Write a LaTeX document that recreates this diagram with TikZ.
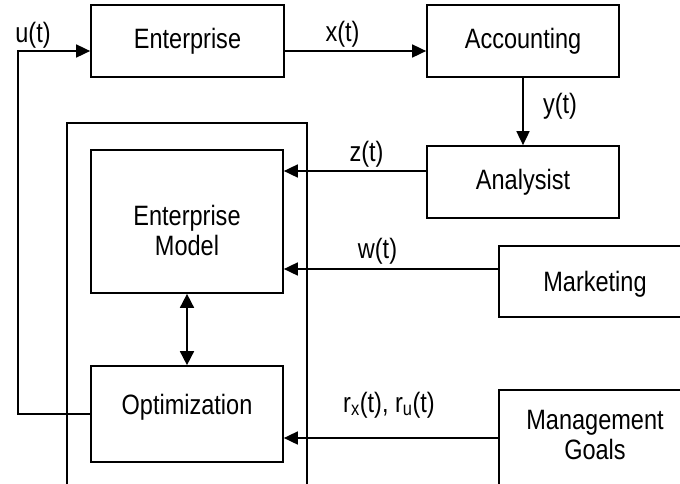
\documentclass[tikz,border=0pt]{standalone}
\usepackage{fontspec}
\setmainfont[FakeStretch=0.84]{Liberation Sans}
\usetikzlibrary{arrows.meta}
\tikzset{
  box/.style={draw, line width=1.7pt, rectangle, inner sep=0pt},
  txt/.style={inner sep=0pt, align=center, font=\fontsize{28}{30}\selectfont},
  lbl/.style={inner sep=0pt, font=\fontsize{28}{30}\selectfont},
  conn/.style={line width=1.7pt},
  arr/.style={conn, -{Triangle[length=14pt,width=13pt]}},
  darr/.style={conn, {Triangle[length=14pt,width=14pt]}-{Triangle[length=14pt,width=14pt]}},
}
\begin{document}
\begin{tikzpicture}[x=1pt,y=-1pt]
\useasboundingbox (0,0) rectangle (680,483);
\clip (0,0) rectangle (680,483);
% boxes
\node[box, minimum width=193pt, minimum height=72pt] (ent) at (187.5,41) {};
\node[txt] (entT) at (ent.center) {Enterprise};
\node[box, minimum width=192pt, minimum height=72pt] (acc) at (523,41) {};
\node[txt] (accT) at (acc.center) {Accounting};
\node[box, minimum width=192pt, minimum height=72pt] (ana) at (523,182) {};
\node[txt] (anaT) at (ana.center) {Analysist};
\node[box, minimum width=240pt, minimum height=380pt] (outer) at (187,313) {};
\node[box, minimum width=192pt, minimum height=143pt] (em) at (187,221.5) {};
\node[txt] (emT) at ([yshift=-9pt]em.center) {Enterprise\\Model};
\node[box, minimum width=192pt, minimum height=96pt] (opt) at (187,414) {};
\node[txt] (optT) at ([yshift=7pt]opt.center) {Optimization};
\node[box, minimum width=192pt, minimum height=71pt] (mkt) at (595,281.5) {};
\node[txt] (mktT) at ([yshift=-3pt]mkt.center) {Marketing};
\node[box, minimum width=192pt, minimum height=104pt] (mg) at (595,442) {};
\node[txt] (mgT) at ([yshift=7pt]mg.center) {Management\\Goals};
% connectors
\draw[arr] (opt.west) -- ++(-72,0) |- ([yshift=-10pt]ent.west);
\draw[arr] ([yshift=-10pt]ent.east) -- ([yshift=-10pt]acc.west);
\draw[arr] (acc.south) -- (ana.north);
\draw[arr] ([yshift=11pt]ana.west) coordinate (z0) -- (z0 -| em.east);
\draw[arr] ([yshift=12.5pt]mkt.west) coordinate (w0) -- (w0 -| em.east);
\draw[arr] ([yshift=4pt]mg.west) coordinate (r0) -- (r0 -| opt.east);
\draw[darr] (em.south) -- (opt.north);
% labels
\node[lbl] (lu) at (33,35) {u(t)};
\node[lbl] (lx) at (342.5,34) {x(t)};
\node[lbl] (ly) at (560,106) {y(t)};
\node[lbl] (lz) at (366.5,154) {z(t)};
\node[lbl] (lw) at (377.5,251) {w(t)};
\node[lbl] (lr) at (389,405) {r\textsubscript{x}(t), r\textsubscript{u}(t)};
\end{tikzpicture}
\end{document}
